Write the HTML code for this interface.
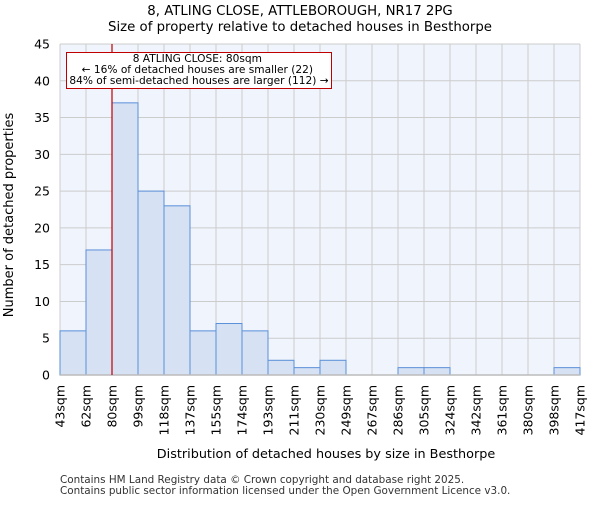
<!DOCTYPE html>
<html><head><meta charset="utf-8"><style>
body{margin:0;background:#fff;font-family:"Liberation Sans","DejaVu Sans",sans-serif}
svg text{font-family:"DejaVu Sans","Liberation Sans",sans-serif}
</style></head><body>
<svg id="chart" width="600" height="500" xmlns="http://www.w3.org/2000/svg">
<text x="300" y="15" text-anchor="middle" font-size="13.3">8, ATLING CLOSE, ATTLEBOROUGH, NR17 2PG</text>
<text x="300" y="31" text-anchor="middle" font-size="13.3">Size of property relative to detached houses in Besthorpe</text>
<rect x="60" y="44" width="520" height="331" fill="#f0f4fc"/>
<g id="grid"></g><g id="bars"></g><g id="axes"></g>
<text x="326" y="458" text-anchor="middle" font-size="12.8">Distribution of detached houses by size in Besthorpe</text>
<text transform="translate(13,215) rotate(-90)" text-anchor="middle" font-size="13">Number of detached properties</text>
<line x1="112" y1="44" x2="112" y2="375" stroke="#c00000" stroke-width="1.2"/>
<rect x="66.5" y="52.5" width="265" height="36" fill="#fff" stroke="#c00000" stroke-width="1"/>
<text font-size="10.6" text-anchor="middle">
<tspan x="199" y="62">8 ATLING CLOSE: 80sqm</tspan>
<tspan x="199" y="73">← 16% of detached houses are smaller (22)</tspan>
<tspan x="199" y="84">84% of semi-detached houses are larger (112) →</tspan></text>
<text x="60" y="483" font-size="10.4" fill="#333">Contains HM Land Registry data © Crown copyright and database right 2025.</text>
<text x="60" y="494" font-size="10.4" fill="#333">Contains public sector information licensed under the Open Government Licence v3.0.</text>
</svg>
<script>
const binLabels=["43sqm","62sqm","80sqm","99sqm","118sqm","137sqm","155sqm","174sqm","193sqm","211sqm","230sqm","249sqm","267sqm","286sqm","305sqm","324sqm","342sqm","361sqm","380sqm","398sqm","417sqm"];
const counts=[6,17,37,25,23,6,7,6,2,1,2,0,0,1,1,0,0,0,0,1];
const yTicks=[0,5,10,15,20,25,30,35,40,45];
const NS="http://www.w3.org/2000/svg";
const x0=60,x1=580,y0=375,y1=44,yMax=45;
const bw=(x1-x0)/counts.length;
const xs=i=>x0+i*bw;
const ys=v=>y0-(v/yMax)*(y0-y1);
function mk(t,a,p){const e=document.createElementNS(NS,t);for(const k in a)e.setAttribute(k,a[k]);p.appendChild(e);return e;}
const grid=document.getElementById('grid'),bars=document.getElementById('bars'),axes=document.getElementById('axes');
yTicks.forEach(v=>{
 const l=mk('line',{x1:x0,x2:x1,y1:ys(v),y2:ys(v),stroke:'#cccccc','stroke-width':1},grid);
 
 
 const t=mk('text',{x:x0-10,y:ys(v)+4.5,'text-anchor':'end','font-size':12.5},axes);
 t.textContent=v;
 
 
});
binLabels.forEach((s,i)=>{
 const l=mk('line',{x1:xs(i),x2:xs(i),y1:y1,y2:y0,stroke:'#cccccc','stroke-width':1},grid);
 
 
 const t=mk('text',{transform:`translate(${xs(i)+4.5},${y0+10}) rotate(-90)`,'text-anchor':'end','font-size':12.5},axes);
 t.textContent=s;
 
 
});
counts.forEach((c,i)=>{
 if(c<=0)return;
 const r=mk('rect',{x:xs(i),y:ys(c),width:bw,height:y0-ys(c),fill:'#d6e1f3',stroke:'#5b8fd9','stroke-width':1},bars);
 
 
});
const ax=mk('line',{x1:x0,x2:x1,y1:y0,y2:y0,stroke:'#bbbbbb','stroke-width':1.5},axes);


</script>
</body></html>
